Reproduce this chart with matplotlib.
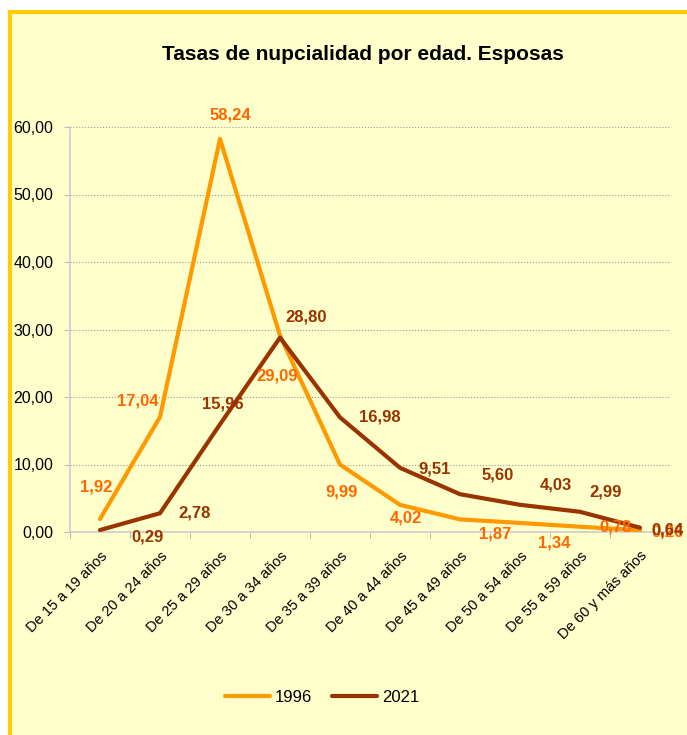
import matplotlib.pyplot as plt
from matplotlib.patches import Rectangle

plt.rcParams['font.family'] = ['Liberation Sans', 'DejaVu Sans']

# data
categories = ["De 15 a 19 años", "De 20 a 24 años", "De 25 a 29 años", "De 30 a 34 años",
              "De 35 a 39 años", "De 40 a 44 años", "De 45 a 49 años", "De 50 a 54 años",
              "De 55 a 59 años", "De 60 y más años"]
tasas_1996 = [1.92, 17.04, 58.24, 29.09, 9.99, 4.02, 1.87, 1.34, 0.78, 0.26]
tasas_2021 = [0.29, 2.78, 15.96, 28.80, 16.98, 9.51, 5.60, 4.03, 2.99, 0.64]
series_names = ["1996", "2021"]
yticks = [0, 10, 20, 30, 40, 50, 60]

# label offsets in pixels (dx, dy) for each point
off_1996 = [(-4, 32), (-22, 16), (10, 24), (-3, -40), (2, -27), (6, -13),
            (35, -15), (34, -20), (36, 0), (27, -2)]
off_2021 = [(47, -7), (35, 0), (3, 20), (26, 21), (40, 0), (35, -1),
            (38, 19), (36, 20), (26, 20), (27, -2)]

bg = '#FFFFCC'
fig = plt.figure(figsize=(6.87, 7.35), dpi=100)
fig.patch.set_facecolor('white')

# chart area with gold border (left and top visible)
fig.patches.append(Rectangle((10 / 687, -0.05), 1.1, 1 - 12 / 735 + 0.05,
                             transform=fig.transFigure, facecolor=bg,
                             edgecolor='#FFCC00', linewidth=3, zorder=-1))

ax = fig.add_axes([70 / 687, 1 - 532 / 735, 600 / 687, 405 / 735])
ax.set_zorder(1)
ax.set_facecolor(bg)
x = list(range(len(categories)))

ax.plot(x, tasas_1996, color='#FF9900', linewidth=3, label=series_names[0],
        solid_capstyle='round', zorder=3)
ax.plot(x, tasas_2021, color='#993300', linewidth=3, label=series_names[1],
        solid_capstyle='round', zorder=4)

for i, v in enumerate(tasas_1996):
    ax.annotate(f"{v:.2f}".replace('.', ','), (i, v), xytext=off_1996[i],
                textcoords='offset pixels', ha='center', va='center',
                fontsize=12, fontweight='bold', color='#FF6600', zorder=5,
                annotation_clip=False)
for i, v in enumerate(tasas_2021):
    ax.annotate(f"{v:.2f}".replace('.', ','), (i, v), xytext=off_2021[i],
                textcoords='offset pixels', ha='center', va='center',
                fontsize=12, fontweight='bold', color='#993300', zorder=5,
                annotation_clip=False)

ax.set_xlim(-0.5, len(categories) - 0.5)
ax.set_ylim(0, 60)
ax.set_yticks(yticks)
ax.set_yticklabels([f"{t:.2f}".replace('.', ',') for t in yticks], fontsize=11.5)
ax.grid(axis='y', linestyle=':', color='#999999', linewidth=0.8)
ax.set_axisbelow(True)

# category ticks between groups, labels at the centres
ax.set_xticks([i - 0.5 for i in range(len(categories) + 1)])
ax.set_xticklabels([])
ax.set_xticks(x, minor=True)
ax.set_xticklabels(categories, minor=True, rotation=45, ha='right',
                   rotation_mode='anchor', fontsize=10.5)
ax.tick_params(axis='x', which='minor', length=0, pad=12)
ax.tick_params(axis='x', which='major', length=4, color='#BBBBBB')
ax.tick_params(axis='y', length=4, color='#BBBBBB', pad=8)

for s in ['top', 'right']:
    ax.spines[s].set_visible(False)
for s in ['left', 'bottom']:
    ax.spines[s].set_color('#CCCCCC')
    ax.spines[s].set_linewidth(1.2)

fig.text(363 / 687, 1 - 55 / 735, "Tasas de nupcialidad por edad. Esposas",
         ha='center', va='center', fontsize=15, fontweight='bold')

fig.legend(loc='center', bbox_to_anchor=(322 / 687, 1 - 697 / 735), ncol=2,
           frameon=False, fontsize=12, handlelength=2.7, columnspacing=1.2,
           handletextpad=0.3)

plt.savefig('out.png', dpi=100, facecolor=fig.get_facecolor())
